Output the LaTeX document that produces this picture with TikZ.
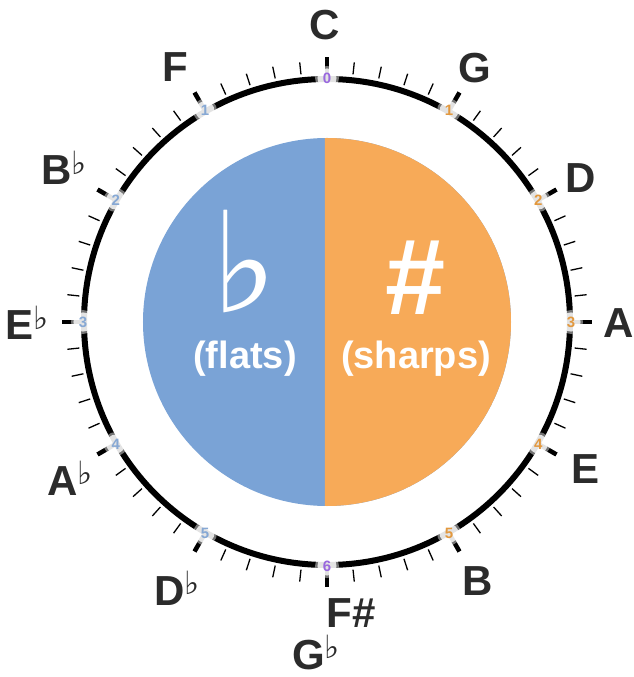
\documentclass[tikz,border=0pt]{standalone}
\usepackage{fontspec}
\setmainfont{Liberation Sans}
\newfontfamily\symfont{DejaVu Sans}
\usetikzlibrary{positioning}
\definecolor{flatBlue}{RGB}{122,163,214}
\definecolor{sharpOrange}{RGB}{247,170,88}
\definecolor{noteGray}{RGB}{43,43,43}
\definecolor{numPurple}{RGB}{153,104,222}
\definecolor{numOrange}{RGB}{226,152,62}
\definecolor{numBlue}{RGB}{134,168,212}
\newcommand{\fl}{\raisebox{0.26em}{\fontsize{32}{32}\selectfont\symfont ♭}}

\begin{document}
\begin{tikzpicture}[x=1pt, y=1pt,
    note/.style={anchor=base, inner sep=0pt, text depth=0pt, text=noteGray, font=\fontsize{42}{42}\selectfont\bfseries},
    num/.style={circle, fill=white, fill opacity=0.8, text opacity=1, inner sep=2pt, font=\fontsize{15}{15}\selectfont\bfseries},
    smalltick/.style={line width=1.3pt},
    bigtick/.style={line width=4.5pt}]
		\path[use as bounding box, fill=white] (-327,-355) rectangle (307,322);
		% Two halves of the disc
		\fill[flatBlue] (0,0) circle (184pt);
		\begin{scope}
			\clip (-2,-190) rectangle (190,190);
			\fill[sharpOrange] (0,0) circle (184pt);
		\end{scope}
		\node[anchor=base, inner sep=0pt, text depth=0pt, text=white, font=\fontsize{140}{140}\selectfont\symfont\bfseries] (flatsym) at (-82,9) {♭};
		\node[anchor=base, inner sep=0pt, text depth=0pt, text=white, font=\fontsize{108}{108}\selectfont\bfseries] (sharpsym) at (89,7) {\#};
		\node[anchor=base, inner sep=0pt, text height=28pt, text=white, font=\fontsize{38}{38}\selectfont\bfseries] (flats) at (-82,-47) {(flats)};
		\node[anchor=base, inner sep=0pt, text height=28pt, text=white, font=\fontsize{38}{38}\selectfont\bfseries] (sharps) at (89,-47) {(sharps)};
		% Ring and ticks
		\draw[line width=6pt] (0,0) circle (243pt);
		\foreach \m in {0,...,59} {
			\pgfmathtruncatemacro{\r}{mod(\m,5)}
			\ifnum\r=0
				\draw[bigtick] ({90-6*\m}:246) -- ({90-6*\m}:265);
			\else
				\draw[smalltick] ({90-6*\m}:249) -- ({90-6*\m}:261);
			\fi
		}
		% Numbers on the ring
		\foreach \a in {0,30,...,330}
			\fill[white, opacity=0.45] (\a:244) circle (12pt);
		\node[num, text=numPurple] (k0) at (90:244) {0};
		\foreach \i in {1,...,5}
			\node[num, text=numOrange] (s\i) at ({90-30*\i}:244) {\i};
		\foreach \i in {1,...,5}
			\node[num, text=numBlue] (f\i) at ({90+30*\i}:244) {\i};
		\node[num, text=numPurple] (k6) at (-90:244) {6};
		% Note names
		\node[note] (nC) at (-2,282) {C};
		\node[note] (nG) at (148,239) {G};
		\node[note] (nD) at (254,129) {D};
		\node[note] (nA) at (292,-16) {A};
		\node[note] (nE) at (259,-161) {E};
		\node[note] (nB) at (151,-273) {B};
		\node[note] (nFs) at (24,-305) {F\#};
		\node[note] (nGb) at (-11,-347) {G\fl};
		\node[note] (nDb) at (-150,-283) {D\fl};
		\node[note] (nAb) at (-257,-173) {A\fl};
		\node[note] (nEb) at (-300,-18) {E\fl};
		\node[note] (nBb) at (-263,137) {B\fl};
		\node[note] (nF) at (-152,240) {F};
\end{tikzpicture}
\end{document}
